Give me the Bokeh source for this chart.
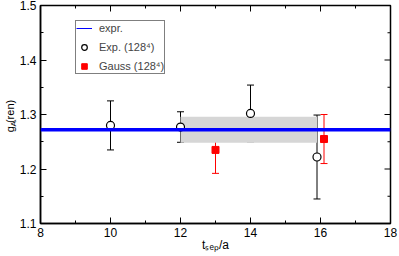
import math
from bokeh.plotting import figure
from bokeh.models import (Range1d, LinearAxis, Whisker, TeeHead, ColumnDataSource,
                          Legend, LegendItem, Label, FixedTicker, Span)
from bokeh.embed import file_html
from bokeh.resources import INLINE

# ---- data ----
exp_t = [10, 12, 14, 15.9]
exp_g = [1.280, 1.277, 1.302, 1.222]
exp_err = [0.045, 0.028, 0.052, 0.077]

gauss_t = [13, 16.1]
gauss_g = [1.235, 1.255]
gauss_err = [0.043, 0.045]

fit_value = 1.272
band_t = [12, 15.9]
band_g = [1.248, 1.296]

x_ticks = [8, 10, 12, 14, 16, 18]
x_minor = [9, 11, 13, 15, 17]
y_ticks = [1.1, 1.2, 1.3, 1.4, 1.5]
y_minor = [1.15, 1.25, 1.35, 1.45]

FONT = "Liberation Sans"

p = figure(width=399, height=256, output_backend="svg", toolbar_location=None,
           x_range=Range1d(x_ticks[0], x_ticks[-1]), y_range=Range1d(y_ticks[0], y_ticks[-1]),
           min_border_left=38, min_border_right=8, min_border_top=5, min_border_bottom=33,
           x_axis_location=None, y_axis_location=None)
p.grid.visible = False
p.outline_line_color = "black"
p.outline_line_width = 1.5
p.background_fill_color = "white"
p.border_fill_color = "white"

def style_axis(ax, ticks, minor, label):
    ax.ticker = FixedTicker(ticks=ticks, minor_ticks=minor)
    ax.axis_line_color = "black"
    ax.axis_line_width = 1.5
    ax.major_tick_in = 6
    ax.major_tick_out = 0
    ax.minor_tick_in = 3
    ax.minor_tick_out = 0
    ax.major_tick_line_color = "black"
    ax.minor_tick_line_color = "black"
    ax.major_tick_line_width = 1
    ax.minor_tick_line_width = 1
    ax.major_label_text_font = FONT
    ax.major_label_text_font_size = "12px"
    ax.major_label_text_color = "black"
    ax.major_label_standoff = 4
    ax.axis_label = label
    ax.axis_label_text_font = FONT
    ax.axis_label_text_font_size = "12px"
    ax.axis_label_text_font_style = "normal"
    ax.axis_label_text_color = "black"
    ax.axis_label_standoff = 1

xb = LinearAxis(); style_axis(xb, x_ticks, x_minor, "t\u209b\u2091\u209a/a")
xb.axis_label_standoff = -2
yl = LinearAxis(); style_axis(yl, y_ticks, y_minor, "g  (ren)")
yl.axis_label_text_font_size = "11px"
p.add_layout(xb, "below")
p.add_layout(yl, "left")

# inward tick marks on the top and right sides (outer half clipped by the frame)
p.scatter(x=x_ticks, y=[y_ticks[-1]] * len(x_ticks), marker="dash", angle=math.pi / 2, size=12,
          line_color="black", line_width=1)
p.scatter(x=x_minor, y=[y_ticks[-1]] * len(x_minor), marker="dash", angle=math.pi / 2, size=6,
          line_color="black", line_width=1)
p.scatter(x=[x_ticks[-1]] * len(y_ticks), y=y_ticks, marker="dash", size=12,
          line_color="black", line_width=1)
p.scatter(x=[x_ticks[-1]] * len(y_minor), y=y_minor, marker="dash", size=6,
          line_color="black", line_width=1)

# band
p.quad(left=[band_t[0]], right=[band_t[1]], bottom=[band_g[0]], top=[band_g[1]],
       fill_color="#d6d6d6", line_color=None)

# fit line
p.add_layout(Span(location=fit_value, dimension="width", line_color="#0000ff", line_width=3.5))
r_line = p.line(x=[band_t[0]], y=[fit_value], line_color="#0000ff", line_width=1)

# error bars
src_e = ColumnDataSource(dict(x=exp_t, y=exp_g,
                              lo=[g - e for g, e in zip(exp_g, exp_err)],
                              hi=[g + e for g, e in zip(exp_g, exp_err)]))
src_g = ColumnDataSource(dict(x=gauss_t, y=gauss_g,
                              lo=[g - e for g, e in zip(gauss_g, gauss_err)],
                              hi=[g + e for g, e in zip(gauss_g, gauss_err)]))
for src, col in ((src_e, "black"), (src_g, "#ff0000")):
    p.add_layout(Whisker(source=src, base="x", lower="lo", upper="hi", line_color=col, line_width=1,
                         lower_head=TeeHead(size=7, line_color=col, line_width=1),
                         upper_head=TeeHead(size=7, line_color=col, line_width=1)))

r_exp = p.scatter("x", "y", source=src_e, marker="circle", size=8, fill_color="white",
                  line_color="black", line_width=1.2)
r_gauss = p.scatter("x", "y", source=src_g, marker="square", size=7, fill_color="#ff0000",
                    line_color="#ff0000")

legend = Legend(items=[LegendItem(label="expr.", renderers=[r_line]),
                       LegendItem(label="Exp. (128\u2074)", renderers=[r_exp]),
                       LegendItem(label="Gauss (128\u2074)", renderers=[r_gauss])],
                location=(35, 149), border_line_color="black", border_line_width=1,
                background_fill_color="white", background_fill_alpha=1,
                label_text_font=FONT, label_text_font_size="11px",
                glyph_width=16, glyph_height=14, label_standoff=7, spacing=5,
                padding=0, margin=0, label_height=14)
p.add_layout(legend)

# subscript A of the y label (canvas units; placed in a side panel so it is not clipped)
p.add_layout(Label(x=13, y=126, x_units="canvas", y_units="canvas", text="A", angle=math.pi / 2,
                   text_font=FONT, text_font_size="8px", text_color="black",
                   text_align="left", text_baseline="alphabetic"), "right")

open("out.html", "w").write(file_html(p, INLINE))
